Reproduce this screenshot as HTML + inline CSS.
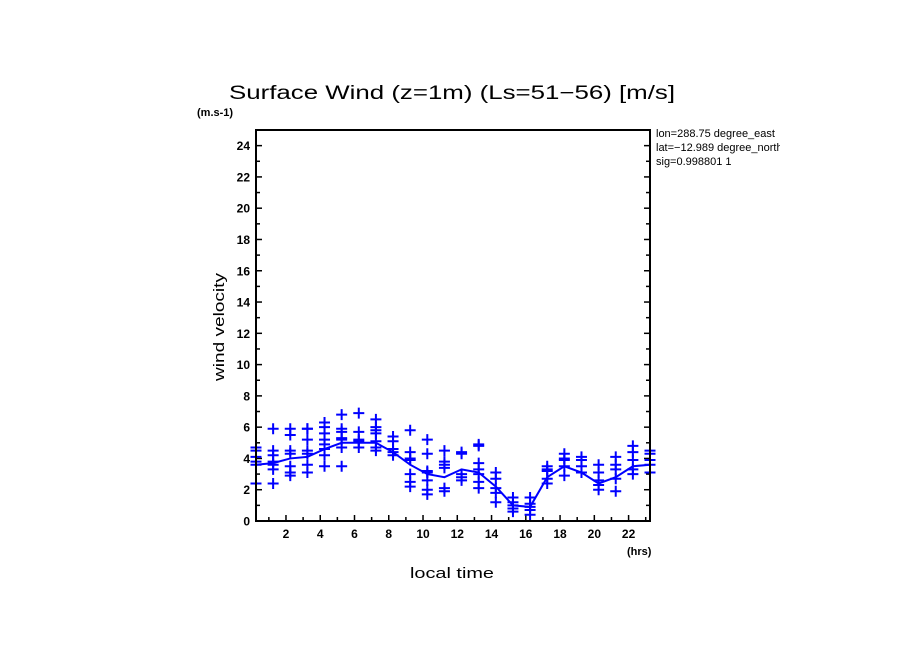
<!DOCTYPE html>
<html><head><meta charset="utf-8"><style>
body{margin:0;background:#fff;}
svg{display:block;font-family:"Liberation Sans","DejaVu Sans",sans-serif;}
</style></head><body>
<svg id="chart" width="904" height="654" viewBox="0 0 904 654">
<rect width="904" height="654" fill="#fff"/>
<text x="229" y="99" textLength="446" lengthAdjust="spacingAndGlyphs" font-size="19" fill="#000">Surface Wind (z=1m) (Ls=51−56) [m/s]</text>
<text x="197" y="116" font-size="11" font-weight="bold">(m.s-1)</text>
<text transform="translate(224,327) rotate(-90)" text-anchor="middle" textLength="108" lengthAdjust="spacingAndGlyphs" font-size="15">wind velocity</text>
<text x="410" y="578" textLength="84" lengthAdjust="spacingAndGlyphs" font-size="15">local time</text>
<text x="627" y="555" font-size="11" font-weight="bold">(hrs)</text>
<svg x="654" y="126" width="126" height="50" overflow="hidden">
<text x="2" y="11" font-size="11">lon=288.75 degree_east</text>
<text x="2" y="25" font-size="11">lat=−12.989 degree_north</text>
<text x="2" y="39" font-size="11">sig=0.998801 1</text>
</svg>
<g id="axes"></g>
<g id="marks"></g>
<rect x="256" y="130" width="394" height="391" fill="none" stroke="#000" stroke-width="2"/>
</svg>
<script>
const hours = [0.25,1.25,2.25,3.25,4.25,5.25,6.25,7.25,8.25,9.25,10.25,11.25,12.25,13.25,14.25,15.25,16.25,17.25,18.25,19.25,20.25,21.25,22.25,23.25];
const meanValues = [3.6,3.7,4.0,4.1,4.6,5.0,5.0,5.0,4.4,3.6,3.0,2.8,3.3,3.1,2.2,1.0,0.9,2.8,3.5,3.1,2.4,2.8,3.5,3.6];
const samples = [
[4.7,4.5,4.1,3.8,3.6,2.4],
[5.9,4.5,4.2,3.8,3.6,3.3,2.4],
[5.9,5.5,4.5,4.3,3.5,3.1,2.9],
[5.9,5.9,5.2,4.5,4.3,3.6,3.1],
[6.3,6.0,5.6,5.2,4.9,4.6,4.2,3.5],
[6.8,5.9,5.7,5.3,5.2,4.7,3.5],
[6.9,5.7,5.2,5.1,4.7],
[6.5,6.0,5.8,5.6,5.1,4.7,4.5],
[5.4,5.1,4.6,4.4,4.2],
[5.8,4.4,4.0,3.9,3.0,2.5,2.2],
[5.2,4.3,3.2,3.1,2.6,2.0,1.7],
[4.5,3.8,3.6,3.4,2.1,1.9],
[4.4,4.3,3.0,2.8,2.6],
[4.9,4.8,3.7,3.3,3.0,2.5,2.1],
[3.1,2.7,2.1,1.8,1.2],
[1.5,1.2,1.0,0.8,0.6],
[1.5,1.1,0.9,0.7,0.4],
[3.5,3.3,3.2,2.7,2.4],
[4.3,4.0,3.9,3.5,2.9],
[4.1,3.9,3.5,3.1],
[3.6,3.1,2.6,2.3,2.0],
[4.1,3.6,3.3,2.7,1.9],
[4.8,4.4,3.9,3.3,3.0],
[4.5,4.3,3.9,3.6,3.1]
];
const yTicks = [0,2,4,6,8,10,12,14,16,18,20,22,24];
const xTicks = [2,4,6,8,10,12,14,16,18,20,22];

const NS='http://www.w3.org/2000/svg';
const X0=0.25,X1=23.25,Y0=0,Y1=25;
const L=256,R=650,T=130,B=521;
const xs=h=>L+(h-X0)/(X1-X0)*(R-L);
const ys=v=>B-(v-Y0)/(Y1-Y0)*(B-T);
function mk(tag,attrs,parent){const e=document.createElementNS(NS,tag);for(const k in attrs)e.setAttribute(k,attrs[k]);parent.appendChild(e);return e;}
const axes=document.getElementById('axes'),marks=document.getElementById('marks');
for(let v=1;v<25;v++){
  const y=ys(v),len=(v%2===0)?6:4;
  const a=mk('line',{x1:L,x2:L+len,y1:y,y2:y,stroke:'#000','stroke-width':1.5},axes);
  
  
  const b=mk('line',{x1:R-len,x2:R,y1:y,y2:y,stroke:'#000','stroke-width':1.5},axes);
  
  
}
yTicks.forEach(v=>{
  const t=mk('text',{x:L-6,y:ys(v)+4.5,'text-anchor':'end','font-size':12,'font-weight':'bold'},axes);
  t.textContent=v;
  
  
});
for(let h=1;h<=23;h++){
  const x=xs(h),len=(h%2===0)?6:4;
  const a=mk('line',{x1:x,x2:x,y1:B,y2:B-len,stroke:'#000','stroke-width':1.5},axes);
  
  
}
xTicks.forEach(h=>{
  const t=mk('text',{x:xs(h),y:B+17,'text-anchor':'middle','font-size':12,'font-weight':'bold'},axes);
  t.textContent=h;
  
  
});
const pl=mk('polyline',{points:hours.map((h,i)=>xs(h)+','+ys(meanValues[i])).join(' '),fill:'none',stroke:'#0000ff','stroke-width':2},marks);


samples.forEach((col,i)=>{
  col.forEach(v=>{
    const x=xs(hours[i]),y=ys(v);
    const p=mk('path',{d:`M${x-5.5},${y}H${x+5.5}M${x},${y-5.5}V${y+5.5}`,stroke:'#0000ff','stroke-width':2,fill:'none'},marks);
    
    
  });
});
</script>
</body></html>
